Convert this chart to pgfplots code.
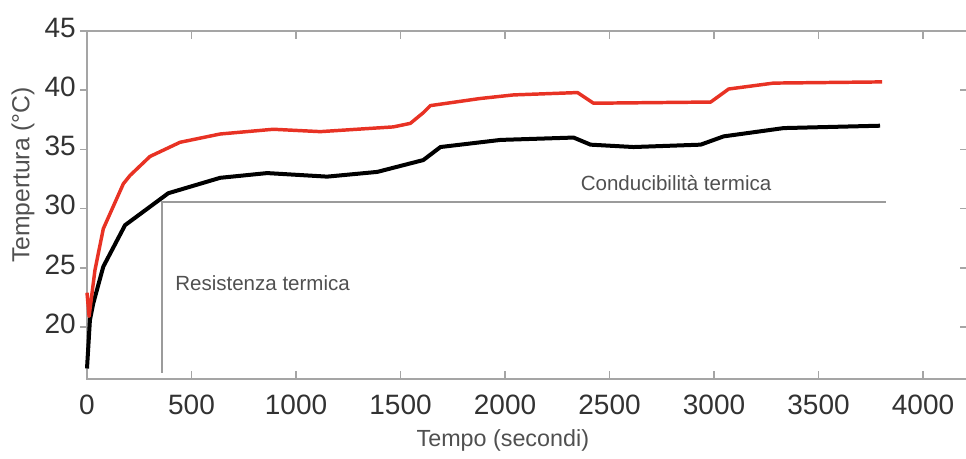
\documentclass[border=0pt]{standalone}
\usepackage{pgfplots}
\pgfplotsset{compat=1.18}
\usepackage{fontspec}
\setmainfont{Liberation Sans}

\definecolor{axgray}{RGB}{165,165,165}
\definecolor{txtgray}{RGB}{50,50,50}
\definecolor{labgray}{RGB}{80,80,80}
\definecolor{refgray}{RGB}{155,155,155}
\definecolor{hotred}{RGB}{232,50,36}

\begin{document}
\begin{tikzpicture}
\useasboundingbox (0,0) rectangle (724.5pt,344.25pt);
\pgfplotsset{
  frame/.style={
    at={(65.25pt,60pt)}, anchor=south west,
    scale only axis, width=660.75pt, height=261pt,
    xmin=0, xmax=4215, ymin=15.61, ymax=45,
    /pgf/number format/assume math mode=true,
    /pgf/number format/1000 sep={},
  },
}
% box with inward ticks on top, bottom and right; the two curves
\begin{axis}[frame, clip=false,
  axis line style={draw=axgray, line width=1.5pt},
  tick align=inside, major tick length=6pt,
  tick style={draw=axgray, line width=1.2pt},
  xtick={0,500,...,4000}, ytick={20,25,...,45},
  xtick pos=both, ytick pos=right, yticklabels={},
  xticklabel style={font=\fontsize{21}{25}\selectfont, text=txtgray, inner sep=0pt, yshift=-12pt},
  xlabel={Tempo (secondi)},
  xlabel style={at={(axis description cs:0.472,-0.178)}, anchor=center,
    font=\fontsize{17.5}{21}\selectfont, text=labgray},
]
% reference lines
\addplot[draw=refgray, line width=1.5pt] coordinates {(360,16.14) (360,30.55) (3823,30.55)};
% lower curve
\addplot[black, line width=3pt, line join=round] coordinates {
  (0,16.5) (14,20.6) (30,22.0) (78,25.1) (182,28.6) (389,31.3)
  (637,32.6) (862,33.0) (1149,32.7) (1389,33.1) (1609,34.1) (1691,35.2)
  (1978,35.8) (2328,36.0) (2409,35.4) (2615,35.2) (2936,35.4) (3046,36.1)
  (3333,36.8) (3794,37.0)
};
% upper curve
\addplot[draw=hotred, line width=2.6pt, line join=round] coordinates {
  (0,22.9) (10,20.9) (38,24.8) (78,28.3) (174,32.1) (206,32.8) (301,34.4)
  (445,35.6) (637,36.3) (891,36.7) (1116,36.5) (1466,36.9) (1547,37.2)
  (1609,38.1) (1643,38.7) (1882,39.3) (2040,39.6) (2347,39.8) (2423,38.9)
  (2984,39.0) (3070,40.1) (3285,40.6) (3804,40.7)
};
\node[anchor=base west, font=\fontsize{15.4}{18}\selectfont, text=labgray, inner sep=0pt]
  at (axis cs:421,23.05) {Resistenza termica};
\node[anchor=base west, font=\fontsize{15.4}{18}\selectfont, text=labgray, inner sep=0pt]
  at (axis cs:2361,31.5) {Conducibilità termica};
\end{axis}
% left scale with outward ticks
\begin{axis}[frame,
  axis line style={draw=none},
  tick align=outside, major tick length=5.25pt,
  tick style={draw=axgray, line width=1.2pt},
  xtick=\empty, ytick={20,25,...,45}, ytick pos=left,
  yticklabel style={font=\fontsize{21}{25}\selectfont, text=txtgray, inner sep=0pt, xshift=-3pt, yshift=2.5pt},
  ylabel={Tempertura (°C)},
  ylabel style={at={(axis description cs:-0.0726,0.586)}, anchor=center,
    font=\fontsize{18.5}{22}\selectfont, text=labgray},
]
\end{axis}
\end{tikzpicture}
\end{document}
